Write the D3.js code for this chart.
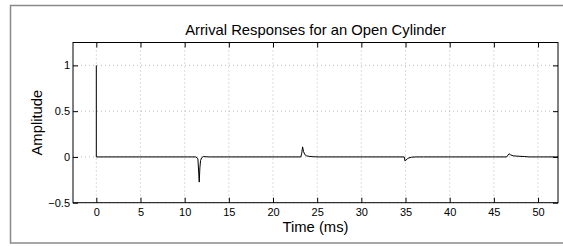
<!DOCTYPE html>
<html><head><meta charset="utf-8">
<script src="https://cdn.jsdelivr.net/npm/d3@7"></script>
<style>body{margin:0;background:#fff}svg{display:block}text{font-family:"Liberation Sans",Arial,sans-serif;fill:#000}</style>
</head><body><svg id="c" width="563" height="246"></svg>
<script>
const title = "Arrival Responses for an Open Cylinder";
const xLabel = "Time (ms)";
const yLabel = "Amplitude";
const xTicks = [0,5,10,15,20,25,30,35,40,45,50];
const yTicks = [-0.5,0,0.5,1];
const xDomain = [-2.64, 52.26];
const yDomain = [-0.5, 1.25];
const time = [0, 0, 11.28, 11.5, 11.65, 11.72, 11.8, 11.92, 12.1, 12.4, 12.8,
  23.15, 23.25, 23.35, 23.45, 23.6, 23.8, 24.1, 24.6, 25.2,
  34.85, 34.95, 35.05, 35.2, 35.4, 35.7, 36.2, 37,
  46.45, 46.6, 46.72, 46.9, 47.2, 47.7, 48.5, 49, 52.26];
const amp = [1, 0, 0, -0.02, -0.275, -0.12, -0.04, -0.01, 0.004, 0.002, 0,
  0, 0.04, 0.11, 0.06, 0.025, 0.012, 0.006, 0.002, 0,
  0, -0.045, -0.035, -0.02, -0.01, -0.003, 0, 0,
  0, 0.02, 0.035, 0.022, 0.012, 0.008, 0.004, 0, 0];

const svg = d3.select("#c");
const W = 563, H = 246;
const L = 73, R = 558, T = 42.5, B = 202.7;
const x = d3.scaleLinear().domain(xDomain).range([L, R]);
const y = d3.scaleLinear().domain(yDomain).range([B, T]);

svg.append("rect").attr("width", W).attr("height", H).attr("fill", "#fff");
svg.append("rect").attr("x", 10.5).attr("y", 5.5).attr("width", 560).attr("height", 237.5)
  .attr("fill", "none").attr("stroke", "#8a8a8a").attr("stroke-width", 1.5);

// grid
const g = svg.append("g");
g.selectAll(".gx").data(xTicks).enter().append("line")
  .attr("x1", d => x(d)).attr("x2", d => x(d)).attr("y1", T).attr("y2", B)
  .attr("stroke", "#aaa").attr("stroke-width", 0.8).attr("stroke-dasharray", "1,3");
g.selectAll(".gy").data(yTicks).enter().append("line")
  .attr("y1", d => y(d)).attr("y2", d => y(d)).attr("x1", L).attr("x2", R)
  .attr("stroke", "#aaa").attr("stroke-width", 0.8).attr("stroke-dasharray", "1,3");

// data line
const line = d3.line().x((d,i) => x(time[i])).y((d,i) => y(amp[i]));
svg.append("path").datum(amp).attr("d", line).attr("fill", "none")
  .attr("stroke", "#000").attr("stroke-width", 1);

// axes (ticks inward, mirrored)
const fmt = d => d === -0.5 ? "\u22120.5" : String(d);
const axB = d3.axisBottom(x).tickValues(xTicks).tickSize(-5).tickPadding(6).tickFormat(fmt);
const axT = d3.axisTop(x).tickValues(xTicks).tickSize(-5).tickFormat("");
const axL = d3.axisLeft(y).tickValues(yTicks).tickSize(-5).tickPadding(3).tickFormat(fmt);
const axR = d3.axisRight(y).tickValues(yTicks).tickSize(-5).tickFormat("");
function style(s){ s.select(".domain").remove(); s.selectAll("line").attr("stroke","#000");
  s.selectAll("text").attr("font-size", 11).attr("fill","#000").attr("font-family","Liberation Sans, Arial, sans-serif"); }
svg.append("g").attr("transform", `translate(0,${B})`).call(axB).call(style);
svg.append("g").attr("transform", `translate(0,${T})`).call(axT).call(style);
svg.append("g").attr("transform", `translate(${L},0)`).call(axL).call(style);
svg.append("g").attr("transform", `translate(${R},0)`).call(axR).call(style);
svg.append("rect").attr("x", L).attr("y", T).attr("width", R - L).attr("height", B - T)
  .attr("fill", "none").attr("stroke", "#000").attr("stroke-width", 1);

svg.append("text").attr("x", (L + R) / 2).attr("y", 35).attr("text-anchor", "middle")
  .attr("font-size", 14.8).text(title);
svg.append("text").attr("x", (L + R) / 2).attr("y", 232).attr("text-anchor", "middle")
  .attr("font-size", 14.8).text(xLabel);
svg.append("text").attr("transform", `translate(42,${(T + B) / 2}) rotate(-90)`)
  .attr("text-anchor", "middle").attr("font-size", 14.8).text(yLabel);
</script></body></html>
